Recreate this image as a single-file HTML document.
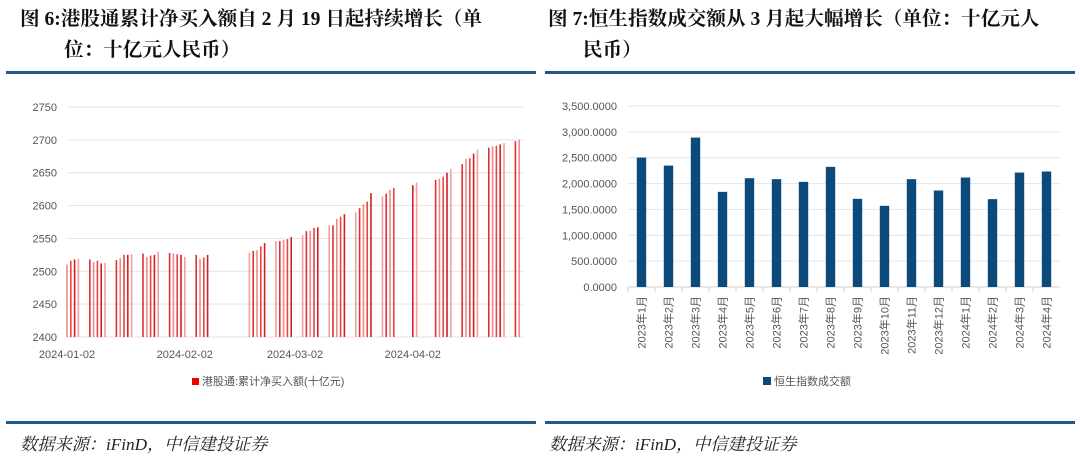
<!DOCTYPE html>
<html><head><meta charset="utf-8"><style>
body{margin:0;width:1080px;height:463px;background:#fff;overflow:hidden;position:relative;font-family:"Liberation Serif","Noto Serif CJK SC",serif}
.t{position:absolute;font-weight:bold;font-size:19.6px;color:#111;white-space:nowrap;line-height:20px}
.rule{position:absolute;height:3px;background:#1f5a8a}
.src{position:absolute;font-style:italic;font-size:17.2px;color:#222;top:430px;font-family:"Liberation Serif","Noto Serif CJK SC",serif}
svg{position:absolute;left:0;top:0}
svg text{font-family:"Liberation Sans","Noto Sans CJK SC",sans-serif;fill:#555}
</style></head><body>
<div class="t" style="left:20px;top:10px">图 6:港股通累计净买入额自 2 月 19 日起持续增长（单</div>
<div class="t" style="left:64px;top:41px">位：十亿元人民币）</div>
<div class="t" style="left:548px;top:10px">图 7:恒生指数成交额从 3 月起大幅增长（单位：十亿元人</div>
<div class="t" style="left:583px;top:41px">民币）</div>
<div class="rule" style="left:6px;top:71px;width:530px"></div>
<div class="rule" style="left:545px;top:71px;width:530px"></div>
<div class="rule" style="left:6px;top:421px;width:530px"></div>
<div class="rule" style="left:545px;top:421px;width:530px"></div>
<div class="src" style="left:20px">数据来源：iFinD，中信建投证券</div>
<div class="src" style="left:549px">数据来源：iFinD，中信建投证券</div>
<svg id="chart" width="1080" height="463"></svg>
<script>
const leftDates=["2024-01-02","2024-01-03","2024-01-04","2024-01-05","2024-01-08","2024-01-09","2024-01-10","2024-01-11","2024-01-12","2024-01-15","2024-01-16","2024-01-17","2024-01-18","2024-01-19","2024-01-22","2024-01-23","2024-01-24","2024-01-25","2024-01-26","2024-01-29","2024-01-30","2024-01-31","2024-02-01","2024-02-02","2024-02-05","2024-02-06","2024-02-07","2024-02-08","2024-02-19","2024-02-20","2024-02-21","2024-02-22","2024-02-23","2024-02-26","2024-02-27","2024-02-28","2024-02-29","2024-03-01","2024-03-04","2024-03-05","2024-03-06","2024-03-07","2024-03-08","2024-03-11","2024-03-12","2024-03-13","2024-03-14","2024-03-15","2024-03-18","2024-03-19","2024-03-20","2024-03-21","2024-03-22","2024-03-25","2024-03-26","2024-03-27","2024-03-28","2024-04-02","2024-04-03","2024-04-08","2024-04-09","2024-04-10","2024-04-11","2024-04-12","2024-04-15","2024-04-16","2024-04-17","2024-04-18","2024-04-19","2024-04-22","2024-04-23","2024-04-24","2024-04-25","2024-04-26","2024-04-29","2024-04-30"];
const leftValues=[2510,2516,2518,2519,2518,2514,2516,2512,2513,2517,2520,2525,2525,2526,2527,2522,2524,2525,2530,2528,2527,2526,2525,2522,2525,2519,2521,2525,2528,2531,2532,2538,2543,2546,2546,2548,2549,2552,2555,2561,2562,2566,2567,2570,2570,2580,2583,2587,2590,2596,2602,2606,2619,2614,2618,2624,2627,2631,2635,2639,2641,2644,2650,2656,2663,2671,2672,2679,2685,2688,2690,2691,2693,2695,2698,2700];
const leftTicks=[2400,2450,2500,2550,2600,2650,2700,2750];
const leftDateTicks=["2024-01-02","2024-02-02","2024-03-02","2024-04-02"];
const rightCats=["2023年1月","2023年2月","2023年3月","2023年4月","2023年5月","2023年6月","2023年7月","2023年8月","2023年9月","2023年10月","2023年11月","2023年12月","2024年1月","2024年2月","2024年3月","2024年4月"];
const rightValues=[2503,2348,2889,1840,2104,2085,2033,2323,1705,1570,2085,1866,2117,1699,2213,2233];
const rightTicks=[0,500,1000,1500,2000,2500,3000,3500];

const svg=document.getElementById('chart');
const NS='http://www.w3.org/2000/svg';
function mk(tag,attrs,txt){const e=document.createElementNS(NS,tag);for(const k in attrs)e.setAttribute(k,attrs[k]);if(txt!=null)e.textContent=txt;svg.appendChild(e);return e;}
const day0=Date.parse("2024-01-02");
function lx(d){return 67+(Date.parse(d)-day0)/86400000*3.8;}
function ly(v){return 337-(v-2400)/350*230;}
leftTicks.forEach(t=>{
  const g=mk('line',{x1:67,x2:523,y1:ly(t),y2:ly(t),stroke:'#e3e3e3','stroke-width':1});
  
  
  const l=mk('text',{x:57,y:ly(t)+4,'text-anchor':'end','font-size':11},t);
  
  
});
leftDateTicks.forEach(d=>{
  const l=mk('text',{x:lx(d),y:358,'text-anchor':'middle','font-size':11},d);
  
  
});
const shades=['#f08a8a','#e84545','#d42020','#f4a0a0','#e33030'];
leftDates.forEach((d,i)=>{
  const v=leftValues[i];
  const b=mk('rect',{x:lx(d)-0.8,y:ly(v),width:1.6,height:ly(2400)-ly(v),fill:shades[i%shades.length]});
  
  
});
const lr=mk('rect',{x:192,y:378,width:7,height:7,fill:'#e00'});


const lt=mk('text',{x:202,y:385,'font-size':11},'港股通:累计净买入额(十亿元)');


const rx0=628,rx1=1060,bw=(rx1-rx0)/rightCats.length;
function ry(v){return 287-v/3500*181;}
rightTicks.forEach(t=>{
  const g=mk('line',{x1:rx0,x2:rx1,y1:ry(t),y2:ry(t),stroke:t===0?'#d0d0d0':'#e6e6e6','stroke-width':1});
  
  
  const l=mk('text',{x:617,y:ry(t)+4,'text-anchor':'end','font-size':11},t.toLocaleString('en-US',{minimumFractionDigits:4,maximumFractionDigits:4}));
  
  
});
rightCats.forEach((c,i)=>{
  const cx=rx0+bw*(i+0.5);
  const b=mk('rect',{x:cx-4.7,y:ry(rightValues[i]),width:9.4,height:ry(0)-ry(rightValues[i]),fill:'#0b4a7a'});
  
  
  const tk=mk('line',{x1:rx0+bw*i,x2:rx0+bw*i,y1:287,y2:292,stroke:'#d0d0d0'});
  
  
  const l=mk('text',{x:0,y:0,'font-size':11,'text-anchor':'end',transform:`translate(${cx+4},296) rotate(-90)`},c);
  
  
});
const rr=mk('rect',{x:763,y:377,width:8,height:8,fill:'#0b4a7a'});


const rt=mk('text',{x:774,y:385,'font-size':11},'恒生指数成交额');


</script>
</body></html>
